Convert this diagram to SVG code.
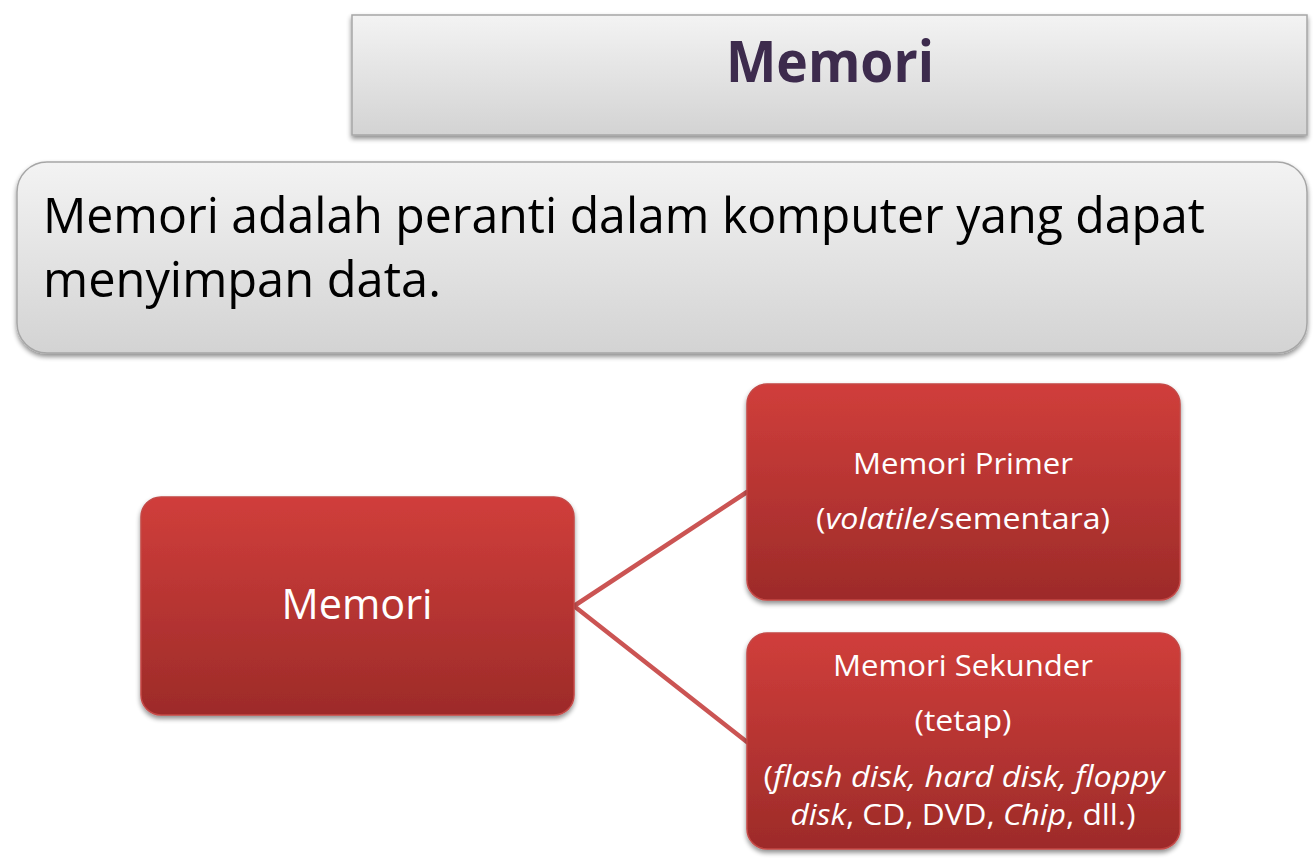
<svg xmlns="http://www.w3.org/2000/svg" width="1315" height="868" viewBox="0 0 1315 868">
<style>
.gray{stroke:#a6a6a6;stroke-width:1.5;filter:url(#sh)}
.red{fill:url(#rg);stroke:#c44846;stroke-width:1.5;filter:url(#sh)}
.wt{fill:#ffffff;font-family:"Open Sans","Liberation Sans",sans-serif;text-anchor:middle}
.bk{fill:#000000;font-family:"Open Sans","Liberation Sans",sans-serif}
.conn{stroke:#cb5453;stroke-width:4.5;fill:none;stroke-linecap:round}
</style>
<defs>
<linearGradient id="gg" x1="0" y1="0" x2="0" y2="1">
<stop offset="0" stop-color="#f3f3f3"/>
<stop offset="1" stop-color="#d3d3d3"/>
</linearGradient>
<linearGradient id="rg" x1="0" y1="0" x2="0" y2="1">
<stop offset="0" stop-color="#d03e3b"/>
<stop offset="1" stop-color="#9d2b29"/>
</linearGradient>
<filter id="sh" x="-5%" y="-5%" width="110%" height="115%">
<feGaussianBlur in="SourceAlpha" stdDeviation="2.5"/>
<feOffset dx="0" dy="3" result="b"/>
<feComponentTransfer><feFuncA type="linear" slope="0.45"/></feComponentTransfer>
<feMerge><feMergeNode/><feMergeNode in="SourceGraphic"/></feMerge>
</filter>
</defs>
<rect width="1315" height="868" fill="#ffffff"/>
<g id="title">
<rect class="gray" x="352" y="15" width="955" height="120" fill="url(#gg)"/>
<text x="830" y="82" font-family="'Open Sans','Liberation Sans',sans-serif" font-weight="bold" font-size="57" fill="#3d2b4d" text-anchor="middle" textLength="208" lengthAdjust="spacingAndGlyphs">Memori</text>
</g>
<g id="definition">
<rect class="gray" x="17" y="162" width="1290" height="191" rx="30" fill="url(#gg)"/>
<text class="bk" x="43" y="233" font-size="50" textLength="1162" lengthAdjust="spacingAndGlyphs">Memori adalah peranti dalam komputer yang dapat</text>
<text class="bk" x="43" y="297" font-size="50" textLength="398" lengthAdjust="spacingAndGlyphs">menyimpan data.</text>
</g>
<g id="connectors">
<line class="conn" x1="574" y1="606" x2="747" y2="492"/>
<line class="conn" x1="574" y1="606" x2="747" y2="742"/>
</g>
<g id="node-memori">
<rect class="red" x="141" y="497" width="433" height="218" rx="20"/>
<text class="wt" x="357" y="619" font-size="42" textLength="151" lengthAdjust="spacingAndGlyphs">Memori</text>
</g>
<g id="node-primer">
<rect class="red" x="747" y="384" width="433" height="216" rx="20"/>
<text class="wt" x="963" y="474" font-size="30" textLength="220" lengthAdjust="spacingAndGlyphs">Memori Primer</text>
<text class="wt" x="963" y="529" font-size="30" textLength="294" lengthAdjust="spacingAndGlyphs">(<tspan font-style="italic">volatile</tspan>/sementara)</text>
</g>
<g id="node-sekunder">
<rect class="red" x="747" y="633" width="433" height="216" rx="20"/>
<text class="wt" x="963" y="676" font-size="30" textLength="260" lengthAdjust="spacingAndGlyphs">Memori Sekunder</text>
<text class="wt" x="963" y="731" font-size="30" textLength="97" lengthAdjust="spacingAndGlyphs">(tetap)</text>
<text class="wt" x="964" y="787" font-size="30" textLength="401" lengthAdjust="spacingAndGlyphs">(<tspan font-style="italic">flash disk, hard disk, floppy</tspan></text>
<text class="wt" x="963" y="825" font-size="30" textLength="345" lengthAdjust="spacingAndGlyphs"><tspan font-style="italic">disk</tspan>, CD, DVD, <tspan font-style="italic">Chip</tspan>, dll.)</text>
</g>
</svg>
